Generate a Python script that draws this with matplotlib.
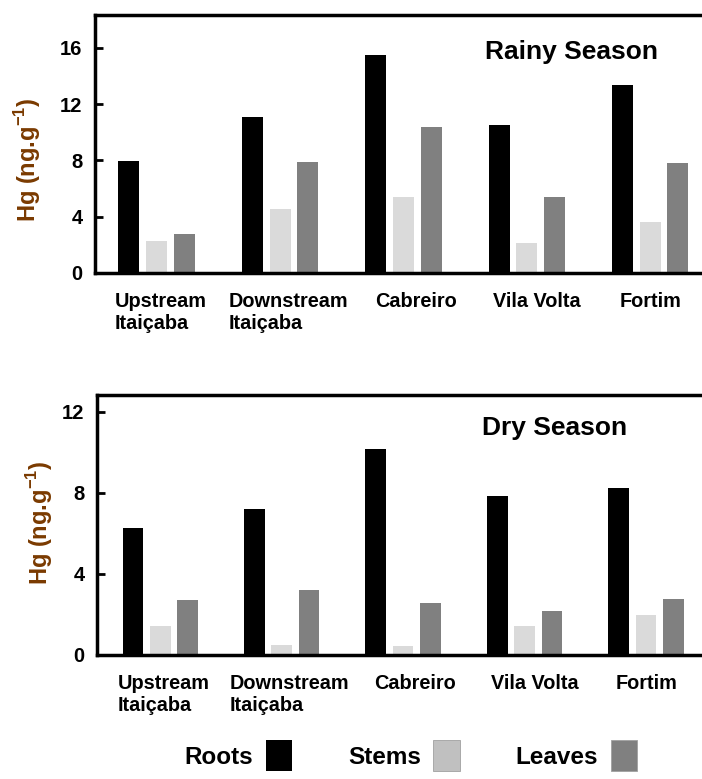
"""Hg concentrations in roots, stems and leaves along the river, rainy vs dry season."""
import numpy as np
import matplotlib
matplotlib.use("Agg")
import matplotlib.pyplot as plt
from matplotlib.patches import Patch

plt.rcParams["font.family"] = ["Liberation Sans", "DejaVu Sans"]
plt.rcParams["font.weight"] = "bold"
plt.rcParams["mathtext.fontset"] = "custom"
plt.rcParams["mathtext.rm"] = "Liberation Sans:bold"
plt.rcParams["mathtext.bf"] = "Liberation Sans:bold"

SITES = ["Upstream\nItaiçaba", "Downstream\nItaiçaba", "Cabreiro", "Vila Volta", "Fortim"]
PARTS = ["Roots", "Stems", "Leaves"]

RAINY_ROOTS = [7.95, 11.1, 15.5, 10.5, 13.35]
RAINY_STEMS = [2.25, 4.55, 5.4, 2.15, 3.65]
RAINY_LEAVES = [2.8, 7.9, 10.4, 5.4, 7.8]

DRY_ROOTS = [6.25, 7.2, 10.15, 7.85, 8.25]
DRY_STEMS = [1.45, 0.5, 0.45, 1.45, 1.95]
DRY_LEAVES = [2.7, 3.2, 2.55, 2.15, 2.75]

BAR_COLORS = ["#000000", "#dadada", "#808080"]
LEGEND_COLORS = ["#000000", "#c0c0c0", "#808080"]
LABEL_COLOR = "#7a3a00"

# site names sit a little right of their bar groups
LABEL_SHIFT = [0.03, 0.065, 0.1, 0.08, 0.0]


def draw_panel(ax, series, title, yticks, ylim, xlim, title_xy, label_xy):
    x = np.arange(len(SITES))
    width = 0.17
    step = 0.225
    for i, (vals, color) in enumerate(zip(series, BAR_COLORS)):
        ax.bar(x + (i - 1) * step, vals, width, color=color, edgecolor="none")

    ax.set_xlim(*xlim)
    ax.set_ylim(*ylim)
    ax.set_yticks(yticks)
    ax.set_xticks(x + np.array(LABEL_SHIFT))
    ax.set_xticklabels(SITES, fontsize=14.3, fontweight="bold", multialignment="left")
    ax.tick_params(axis="x", length=0, pad=14)
    ax.tick_params(axis="y", direction="in", length=6, width=2, pad=9,
                   labelsize=14.5)
    for lbl in ax.get_yticklabels():
        lbl.set_fontweight("bold")

    for side in ("left", "top", "bottom"):
        ax.spines[side].set_linewidth(2.5)
    ax.spines["right"].set_visible(False)

    ax.set_ylabel(r"Hg (ng.g$^{\mathbf{-1}}$)", fontsize=17,
                  fontweight="bold", color=LABEL_COLOR)
    ax.yaxis.set_label_coords(*label_xy)

    ax.text(title_xy[0], title_xy[1], title, transform=ax.transAxes,
            ha="left", va="center", fontsize=19, fontweight="bold")


fig = plt.figure(figsize=(7.02, 7.79), dpi=100)
ax_top = fig.add_axes([0.1353, 0.6496, 0.8647, 0.3312])
ax_bot = fig.add_axes([0.1382, 0.1592, 0.8618, 0.3338])

draw_panel(ax_top, [RAINY_ROOTS, RAINY_STEMS, RAINY_LEAVES], "Rainy Season",
           [0, 4, 8, 12, 16], (0, 18.35), (-0.5, 4.42),
           (0.6425, 0.857), (-0.086, 0.438))
draw_panel(ax_bot, [DRY_ROOTS, DRY_STEMS, DRY_LEAVES], "Dry Season",
           [0, 4, 8, 12], (0, 12.84), (-0.52, 4.46),
           (0.636, 0.873), (-0.07, 0.508))

handles = [Patch(facecolor=c, edgecolor="#a0a0a0" if c != "#000000" else "none",
                 linewidth=0.6) for c in LEGEND_COLORS]
fig.legend(handles, PARTS, loc="center", bbox_to_anchor=(0.5855, 0.03),
           ncol=3, frameon=False, markerfirst=False,
           handlelength=1.1, handleheight=1.6, handletextpad=0.5,
           columnspacing=2.3, borderpad=0,
           prop={"weight": "bold", "size": 17.5})

fig.savefig("out.png", dpi=100)
